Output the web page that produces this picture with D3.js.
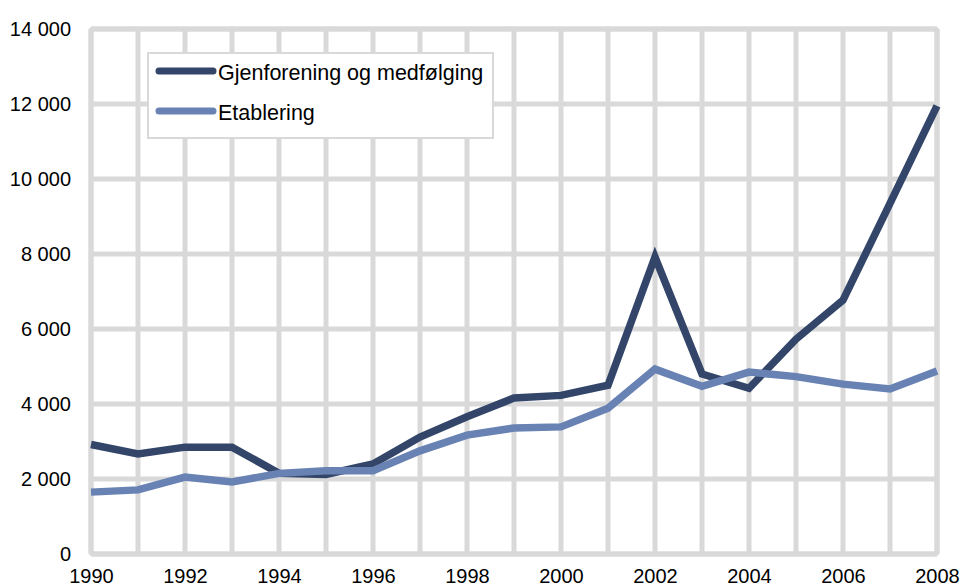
<!DOCTYPE html>
<html>
<head>
<meta charset="utf-8">
<script src="https://cdn.jsdelivr.net/npm/d3@7"></script>
<style>
  body { margin: 0; background: #fff; }
  text { font-family: "Liberation Sans", Arial, sans-serif; fill: #000; }
</style>
</head>
<body>
<div id="chart"></div>
<script>
const years = d3.range(1990, 2009);
const gjenforening = [2920, 2670, 2850, 2850, 2150, 2120, 2400, 3120, 3660, 4160, 4230, 4500, 7920, 4800, 4420, 5730, 6770, 9350, 11950];
const etablering = [1650, 1710, 2050, 1920, 2150, 2220, 2220, 2750, 3170, 3360, 3390, 3890, 4930, 4470, 4850, 4730, 4530, 4400, 4880];
const seriesNames = ["Gjenforening og medfølging", "Etablering"];
const seriesColors = ["#33466a", "#6882b3"];
const yTicks = [0, 2000, 4000, 6000, 8000, 10000, 12000, 14000];

const width = 963, height = 588;
const margin = { left: 91, right: 26, top: 29, bottom: 34 };
const gridColor = "#d9d9d9";

const svg = d3.select("#chart")
  .append("svg")
    .attr("width", width)
    .attr("height", height);

const x = d3.scaleLinear()
  .domain([1990, 2008])
  .range([margin.left, width - margin.right]);

const y = d3.scaleLinear()
  .domain([0, 14000])
  .range([height - margin.bottom, margin.top]);

const fmt = v => d3.format(",")(v).replace(",", " ");

// grid
const grid = svg.append("g").attr("class", "grid");
grid.selectAll("line.v")
  .data(years)
  .join("line")
    .attr("class", "v")
    .attr("x1", d => x(d)).attr("x2", d => x(d))
    .attr("y1", y(0)).attr("y2", y(14000))
    .attr("stroke", gridColor)
    .attr("stroke-width", 5);
grid.selectAll("line.h")
  .data(yTicks)
  .join("line")
    .attr("class", "h")
    .attr("x1", x(1990)).attr("x2", x(2008))
    .attr("y1", d => y(d)).attr("y2", d => y(d))
    .attr("stroke", gridColor)
    .attr("stroke-width", 5);
grid.append("rect")
  .attr("x", x(1990)).attr("y", y(14000))
  .attr("width", x(2008) - x(1990))
  .attr("height", y(0) - y(14000))
  .attr("fill", "none")
  .attr("stroke", gridColor)
  .attr("stroke-width", 5)
  .attr("rx", 2);

// axes labels
svg.append("g")
  .attr("transform", `translate(${margin.left - 17},0)`)
  .call(d3.axisLeft(y).tickValues(yTicks).tickFormat(fmt).tickSize(0))
  .call(g => g.select(".domain").remove())
  .selectAll("text")
    .attr("font-size", 20)
    .attr("font-family", "Liberation Sans, Arial, sans-serif")
    .attr("fill", "#000");

svg.append("g")
  .attr("transform", `translate(0,${height - margin.bottom + 12})`)
  .call(d3.axisBottom(x).tickValues(years.filter(d => d % 2 === 0)).tickFormat(d3.format("d")).tickSize(0))
  .call(g => g.select(".domain").remove())
  .selectAll("text")
    .attr("font-size", 20)
    .attr("font-family", "Liberation Sans, Arial, sans-serif")
    .attr("fill", "#000");

// lines
const line = d3.line()
  .x((d, i) => x(years[i]))
  .y(d => y(d));

[gjenforening, etablering].forEach((s, i) => {
  svg.append("path")
    .datum(s)
    .attr("fill", "none")
    .attr("stroke", seriesColors[i])
    .attr("stroke-width", 7.5)
    .attr("stroke-linejoin", "miter")
    .attr("d", line);
});

// legend
const legend = svg.append("g").attr("transform", "translate(148,53)");
legend.append("rect")
  .attr("width", 345).attr("height", 85)
  .attr("fill", "#fff")
  .attr("stroke", gridColor)
  .attr("stroke-width", 2);
seriesNames.forEach((name, i) => {
  const ly = 18 + i * 40;
  legend.append("line")
    .attr("x1", 11).attr("x2", 65)
    .attr("y1", ly).attr("y2", ly)
    .attr("stroke", seriesColors[i])
    .attr("stroke-width", 7)
    .attr("stroke-linecap", "round");
  legend.append("text")
    .attr("x", 70).attr("y", ly + 9)
    .attr("font-size", 21.5)
    .text(name);
});
</script>
</body>
</html>
